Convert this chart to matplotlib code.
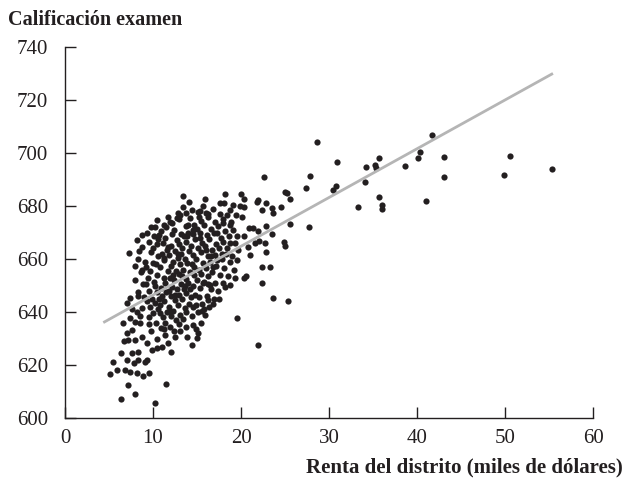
import matplotlib
matplotlib.use("Agg")
import matplotlib.pyplot as plt
import numpy as np

plt.rcParams["font.family"] = ["Liberation Serif", "DejaVu Serif"]

# District income (thousands of dollars) and average test score
income = [
    # dense core
    8.8, 9.0, 8.9, 8.7, 9.1, 8.8,
    9.5, 9.3, 9.6, 9.4, 9.2, 9.5,
    9.8, 10.0, 9.9, 10.1, 9.7, 10.0, 9.8, 10.1,
    10.5, 10.3, 10.6, 10.4, 10.2, 10.5, 10.3, 10.6, 10.4, 10.7,
    10.9, 11.1, 10.8, 11.0, 10.9, 11.2, 10.8, 11.0, 11.1, 10.9,
    11.4, 11.6, 11.3, 11.5, 11.4, 11.7, 11.3, 11.6, 11.4, 11.5,
    11.9, 12.1, 11.8, 12.0, 12.2, 11.9, 12.1, 11.8, 12.0, 12.2, 11.9,
    12.4, 12.6, 12.3, 12.5, 12.7, 12.4, 12.6, 12.3, 12.5, 12.7, 12.4,
    12.9, 13.1, 12.8, 13.0, 13.2, 12.9, 13.1, 12.8, 13.0, 13.2, 12.9,
    13.4, 13.6, 13.3, 13.5, 13.7, 13.4, 13.6, 13.3, 13.5, 13.7, 13.4,
    13.9, 14.1, 13.8, 14.0, 14.2, 13.9, 14.1, 13.8, 14.0, 14.2,
    14.4, 14.6, 14.3, 14.5, 14.7, 14.4, 14.6, 14.3, 14.5, 14.7, 14.4,
    14.9, 15.1, 14.8, 15.0, 15.2, 14.9, 15.1, 14.8, 15.0, 15.2,
    15.4, 15.6, 15.3, 15.5, 15.7, 15.4, 15.6, 15.3, 15.5, 15.7,
    15.9, 16.1, 15.8, 16.0, 16.2, 15.9, 16.1, 15.8, 16.0,
    16.4, 16.6, 16.3, 16.5, 16.7, 16.4, 16.6, 16.3,
    16.9, 17.1, 16.8, 17.0, 17.2, 16.9, 17.1, 16.8,
    17.4, 17.6, 17.3, 17.5, 17.7, 17.4, 17.6,
    17.9, 18.1, 17.8, 18.0, 18.2, 17.9, 18.1,
    18.5, 18.7, 18.4, 18.6, 18.8,
    19.2, 19.0, 19.3, 19.1, 19.4,
    9.6, 10.2, 10.8, 11.3, 11.8, 12.3, 12.8, 13.3, 13.8, 14.2, 14.7, 15.2,
    15.7, 16.2, 16.7, 17.2, 17.8, 18.3, 18.8, 19.5, 10.0, 10.6, 11.2, 11.7,
    12.2, 12.7, 13.2, 13.9, 14.6, 15.3, 16.0, 16.6, 17.3, 18.0, 18.7, 19.6,
    9.2, 9.7, 10.7, 11.9, 12.5, 13.6, 14.9, 15.6, 16.3,
    # left edge of the cloud
    8.0, 8.3, 7.9, 8.4, 8.2, 7.6, 8.5,
    # low-income tail
    5.1, 5.5, 5.9, 6.4, 6.4, 6.8, 7.0, 7.2, 7.4, 7.6, 7.8, 8.0, 8.15, 8.3,
    8.3, 8.9, 9.1, 9.3, 9.5, 7.2, 8.0, 8.7, 9.3, 9.85, 10.4, 12.1, 14.4,
    7.6, 6.6, 8.5, 7.4, 8.15, 7.0, 6.7, 7.0, 7.95, 10.2, 11.5, 11.0, 11.7,
    11.4, 12.5, 13.1, 13.8, 14.6, 15.15, 15.0, 7.4, 8.3, 8.6, 7.3, 8.3,
    # upper edge of the cloud
    8.7, 9.3, 9.8, 10.2, 11.2, 11.7, 10.5, 12.8, 13.1, 13.8, 14.0, 15.15,
    13.4, 14.1, 15.3, 16.2, 15.9, 17.6, 18.4, 18.9, 19.1, 19.9, 18.2, 20.0,
    20.3, 20.3, 20.1,
    # 20-26 thousand
    21.8, 21.9, 22.4, 22.8, 23.5, 23.6, 24.5, 22.6, 25.0, 25.2, 25.6, 25.6,
    24.9, 25.0, 23.5, 22.8, 22.7, 22.8, 20.9, 21.4, 21.9, 20.3, 19.7, 20.8,
    21.6, 22.0, 21.0, 20.6, 20.3, 19.3, 18.75, 18.2, 22.35, 23.3, 22.4,
    23.6, 25.3, 19.6, 21.9, 15.8, 16.8, 17.5, 16.5,
    # high-income districts
    27.7, 27.35, 27.8, 28.6, 30.5, 30.76, 30.9, 33.3, 34.1, 34.2, 35.2,
    35.35, 35.7, 35.7, 36.05, 36.05, 38.6, 40.1, 40.3, 41.0, 41.7, 43.1,
    43.1, 49.85, 50.6, 55.3,
]

score = [
    641.5, 645.5, 650.5, 656.0, 659.0, 664.5,
    638.0, 644.0, 648.0, 653.0, 657.0, 666.5,
    633.0, 639.5, 645.0, 651.5, 655.5, 658.5, 662.5, 668.5,
    630.0, 636.0, 641.0, 647.5, 650.0, 654.0, 658.0, 661.0, 665.5, 669.0,
    634.0, 638.0, 642.5, 646.0, 649.0, 653.0, 657.0, 662.0, 666.0, 670.5,
    636.0, 640.0, 644.0, 647.5, 651.0, 655.5, 659.5, 663.5, 668.0, 672.0,
    634.5, 638.5, 642.0, 646.0, 649.5, 653.0, 657.5, 661.5, 665.0, 669.5, 674.0,
    633.0, 637.0, 640.5, 644.5, 648.5, 652.0, 655.5, 659.0, 663.0, 667.0, 671.0,
    635.5, 639.0, 642.5, 646.5, 650.5, 654.5, 658.0, 662.0, 665.5, 669.5, 675.0,
    637.5, 641.5, 645.0, 648.5, 652.5, 656.0, 660.0, 664.0, 668.5, 672.5, 679.5,
    630.5, 643.0, 647.0, 651.0, 655.0, 658.5, 663.0, 666.5, 670.0, 675.5,
    638.5, 642.0, 645.5, 650.0, 654.0, 658.0, 661.5, 665.0, 669.5, 673.0, 678.5,
    633.5, 640.0, 646.5, 652.0, 656.0, 660.0, 664.0, 667.5, 671.5, 676.0,
    636.0, 643.0, 649.0, 654.5, 658.5, 662.5, 666.0, 670.0, 674.5, 680.0,
    639.0, 646.0, 651.5, 656.5, 661.0, 665.0, 669.0, 673.0, 677.5,
    642.0, 648.5, 653.5, 659.0, 663.5, 667.5, 671.5, 676.0,
    645.0, 651.0, 657.0, 661.5, 665.5, 670.0, 674.0, 679.0,
    648.0, 654.0, 659.5, 664.0, 668.0, 672.5, 677.0,
    651.0, 656.5, 662.0, 666.5, 670.5, 675.0, 681.0,
    653.5, 659.0, 664.0, 668.5, 673.0,
    656.0, 661.0, 666.0, 671.0, 676.5,
    635.5, 643.5, 639.5, 633.5, 648.0, 654.0, 660.5, 653.5, 640.0, 648.5, 657.0, 645.5,
    651.0, 644.5, 655.0, 657.5, 660.0, 662.0, 666.0, 668.5, 664.0, 667.5, 660.5, 664.5,
    673.5, 675.5, 662.0, 668.5, 671.0, 668.0, 663.5, 661.0, 670.0, 673.5, 678.5, 659.5,
    650.5, 642.0, 645.0, 640.5, 646.5, 650.0, 642.5, 640.5, 650.5,
    652.0, 646.0, 657.5, 663.0, 667.0, 641.0, 638.5,
    616.6, 621.2, 618.1, 607.0, 624.4, 618.1, 621.9, 612.5, 617.5, 624.4, 620.6, 609.1, 616.8, 621.9,
    625.0, 615.8, 621.2, 621.9, 616.8, 629.4, 629.4, 630.7, 628.2, 625.7, 626.3, 625.0, 627.5,
    633.2, 635.7, 635.7, 637.6, 640.1, 643.3, 629.0, 632.0, 636.3, 605.8, 612.8, 626.9, 628.2,
    631.3, 630.7, 633.0, 634.5, 635.1, 632.0, 630.3, 645.2, 647.5, 655.2, 662.4, 660.0,
    669.1, 669.7, 672.2, 672.2, 672.8, 676.0, 674.8, 677.3, 676.6, 677.3, 672.8, 677.9,
    683.8, 681.6, 678.0, 677.0, 682.5, 681.2, 676.6, 674.1, 680.4, 680.0, 684.4, 684.4,
    682.5, 679.7, 676.0,
    681.5, 682.3, 678.5, 681.2, 679.1, 677.2, 679.5, 690.8, 685.2, 684.8, 682.5, 673.2,
    666.5, 664.9, 669.4, 672.5, 665.9, 662.8, 671.7, 671.7, 670.5, 668.7, 663.4, 664.7,
    666.0, 666.7, 661.5, 653.6, 652.7, 652.7, 650.2, 649.5, 656.9, 656.9, 650.8,
    645.2, 644.3, 637.8, 627.4, 641.1, 643.0, 645.0, 650.3,
    672.1, 686.7, 691.3, 704.3, 686.0, 687.5, 696.5, 679.6, 688.9, 694.7, 695.4,
    694.4, 698.2, 683.4, 680.4, 679.0, 695.1, 698.1, 700.3, 681.9, 706.7, 698.4,
    690.9, 691.8, 699.0, 693.8,
]

# Fitted regression line: score = intercept + slope * income, over this income span
fit_intercept = 628.0
fit_slope = 1.84
fit_range = [4.35, 55.45]

x_ticks = [0, 10, 20, 30, 40, 50, 60]
y_ticks = [600, 620, 640, 660, 680, 700, 720, 740]

ink = "#231f20"

fig = plt.figure(figsize=(6.34, 4.80), dpi=100)
ax = fig.add_axes([65 / 634, 1 - 418 / 480, (593 - 65) / 634, (418 - 47) / 480])

ax.scatter(income, score, s=20, color=ink, linewidths=0, zorder=2)

line_x = np.array(fit_range)
ax.plot(line_x, fit_intercept + fit_slope * line_x, color="#b5b5b5", lw=2.0,
        solid_capstyle="butt", zorder=3)

ax.set_xlim(0, 60)
ax.set_ylim(600, 740)
ax.set_xticks(x_ticks)
ax.set_yticks(y_ticks)
ax.spines["top"].set_visible(False)
ax.spines["right"].set_visible(False)
for side in ("left", "bottom"):
    ax.spines[side].set_linewidth(1.0)
    ax.spines[side].set_color(ink)
ax.tick_params(axis="both", direction="in", length=8, width=1.0,
               colors=ink, labelsize=15, labelcolor=ink)
ax.tick_params(axis="y", pad=12)
ax.tick_params(axis="x", pad=8)

fig.text(8 / 634, 1 - 20 / 480, "Calificación examen", ha="left", va="center",
         fontsize=14.5, fontweight="bold", color=ink)
fig.text(623 / 634, 1 - 467 / 480, "Renta del distrito (miles de dólares)",
         ha="right", va="center", fontsize=15, fontweight="bold", color=ink)

fig.savefig("out.png", dpi=100)
